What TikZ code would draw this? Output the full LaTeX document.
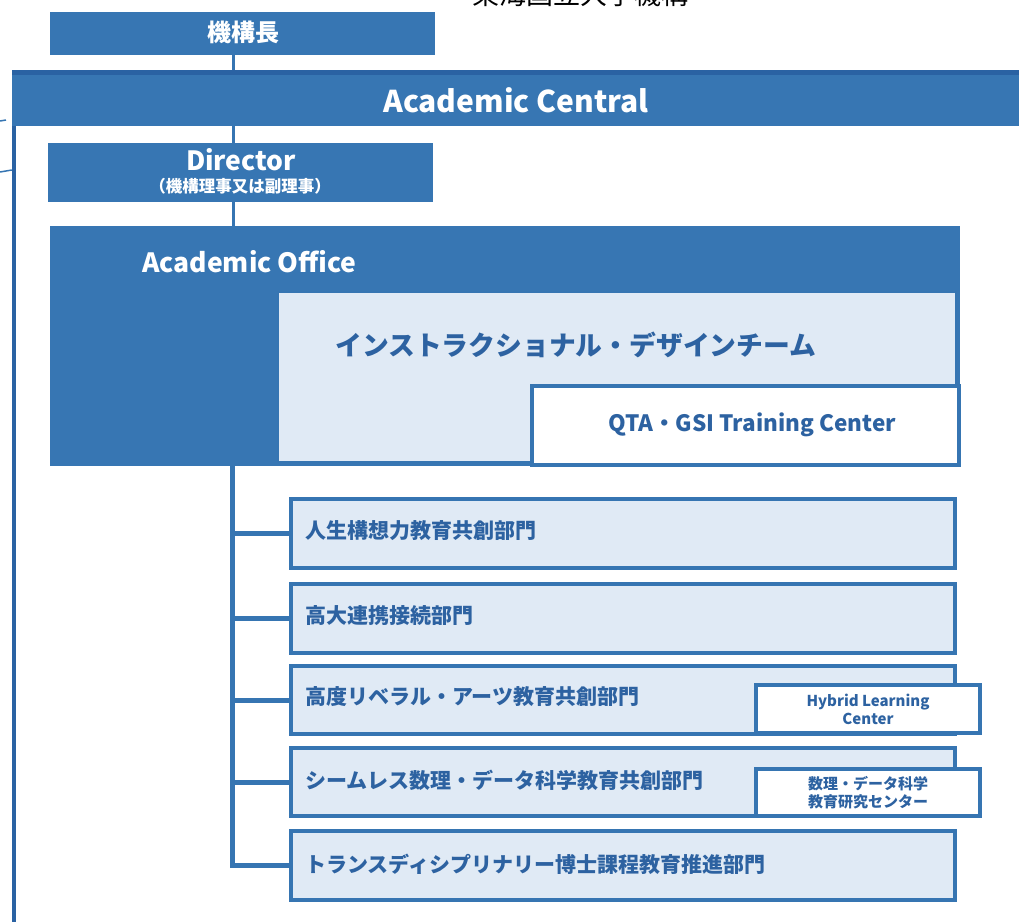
\documentclass[tikz,border=0pt]{standalone}
\usepackage{fontspec}
\setmainfont{Noto Sans CJK JP}
\definecolor{bluefill}{HTML}{3776B3}
\definecolor{bluedark}{HTML}{2A62A3}
\definecolor{blueline}{HTML}{3675B2}
\definecolor{lightfill}{HTML}{E0EAF5}
\definecolor{bluetext}{HTML}{2D62A1}
\newcommand{\boxnode}[6][]{%
  \node[#1, minimum width={(#5-#3)*1pt}, minimum height={(#6-#4)*1pt}]
    (#2) at ({(#3+#5)/2},{(#4+#6)/2}) {};}
\tikzset{
  solidbox/.style={rectangle, inner sep=0pt, fill=bluefill},
  teambox/.style={rectangle, inner sep=0pt, fill=lightfill, draw=blueline, line width=2pt},
  deptbox/.style={rectangle, inner sep=0pt, fill=lightfill, draw=blueline, line width=4pt},
  centerbox/.style={rectangle, inner sep=0pt, fill=white, draw=blueline, line width=4pt},
  whitetext/.style={text=white, font=\bfseries},
  bluelabel/.style={text=bluetext, font=\bfseries\fontsize{21}{25}\selectfont, anchor=west, inner sep=0pt},
  conn/.style={draw=blueline, line width=3pt},
  branch/.style={draw=blueline, line width=5pt},
}
\begin{document}
\begin{tikzpicture}[x=1pt, y=-1pt]
\useasboundingbox (0,0) rectangle (1019,922);
% clipped title at top
\node[anchor=base, inner sep=0pt, font=\fontsize{27}{30}\selectfont] (title) at (580,4) {東海国立大学機構};
% coordinates for the trunk
\coordinate (tx) at (233,0);
\coordinate (bx) at (232,0);
% boxes
\boxnode[solidbox]{top}{50}{12}{435}{55}
\node[whitetext, font=\bfseries\fontsize{24}{28}\selectfont] (toptext) at (243,32) {機構長};
\boxnode[solidbox]{ac}{12}{70}{1019}{126}
\fill[bluedark] (ac.north west) rectangle ([yshift=-5pt]ac.north east);
\node[whitetext, font=\bfseries\fontsize{30}{34}\selectfont] (actext) at (516,100) {Academic Central};
\boxnode[solidbox]{dir}{48}{143}{433}{202}
\node[whitetext, font=\bfseries\fontsize{26.5}{30}\selectfont] (dirtext) at (241,160) {Director};
\node[whitetext, font=\bfseries\fontsize{16.5}{19}\selectfont] (dirsub) at (240,186) {（機構理事又は副理事）};
\boxnode[solidbox]{ao}{50}{226}{960}{466}
\node[whitetext, font=\bfseries\fontsize{26.5}{30}\selectfont, anchor=west, inner sep=0pt] (aotext) at (142,262) {Academic Office};
\boxnode[teambox]{idt}{278}{292}{956}{462}
\node[bluelabel, font=\bfseries\fontsize{26.8}{30}\selectfont] (idttext) at (335,345) {インストラクショナル・デザインチーム};
\boxnode[centerbox]{qta}{532}{386}{959}{465}
\node[text=bluetext, font=\bfseries\fontsize{22.5}{26}\selectfont] (qtatext) at (752,425) {QTA・GSI Training Center};
% departments
\boxnode[deptbox]{d1}{291}{499}{955}{568}
\boxnode[deptbox]{d2}{291}{584}{955}{653}
\boxnode[deptbox]{d3}{291}{666}{955}{734}
\boxnode[deptbox]{d4}{291}{748}{955}{816}
\boxnode[deptbox]{d5}{291}{831}{955}{900}
\node[bluelabel] (d1t) at (305,531) {人生構想力教育共創部門};
\node[bluelabel] (d2t) at (305,616) {高大連携接続部門};
\node[bluelabel] (d3t) at (305,697) {高度リベラル・アーツ教育共創部門};
\node[bluelabel] (d4t) at (305,780) {シームレス数理・データ科学教育共創部門};
\node[bluelabel] (d5t) at (305,864) {トランスディシプリナリー博士課程教育推進部門};
\boxnode[centerbox]{hlc}{756}{685}{980}{733}
\node[text=bluetext, font=\bfseries\fontsize{15}{18}\selectfont, align=center] (hlct) at (hlc) {Hybrid Learning\\Center};
\boxnode[centerbox]{mds}{756}{769}{980}{816}
\node[text=bluetext, font=\bfseries\fontsize{15}{18}\selectfont, align=center] (mdst) at (mds) {数理・データ科学\\教育研究センター};
% connectors
\draw[conn] (top.south -| tx) -- (ac.north -| tx);
\draw[conn] (ac.south -| tx) -- (dir.north -| tx);
\draw[conn] (dir.south -| tx) -- (ao.north -| tx);
\draw[conn, line width=5pt] (ao.south -| bx) -- ([yshift=-2pt]d5.west -| bx);
\foreach \d in {d1,d2,d3,d4,d5} {
  \draw[branch] (\d.west -| bx) -- (\d.west);
}
% left edge line
\coordinate (lbot) at (14,922);
\draw[draw=bluedark, line width=4pt] (ac.south west -| lbot) -- (lbot);
\coordinate (lstub1) at (0,121);
\coordinate (lstub2) at (0,172);
\draw[draw=blueline, line width=1.5pt] (lstub1) -- ++(6,-1);
\draw[draw=blueline, line width=1.5pt] (lstub2) -- (ac.south west |- 0,170);
\end{tikzpicture}
\end{document}
